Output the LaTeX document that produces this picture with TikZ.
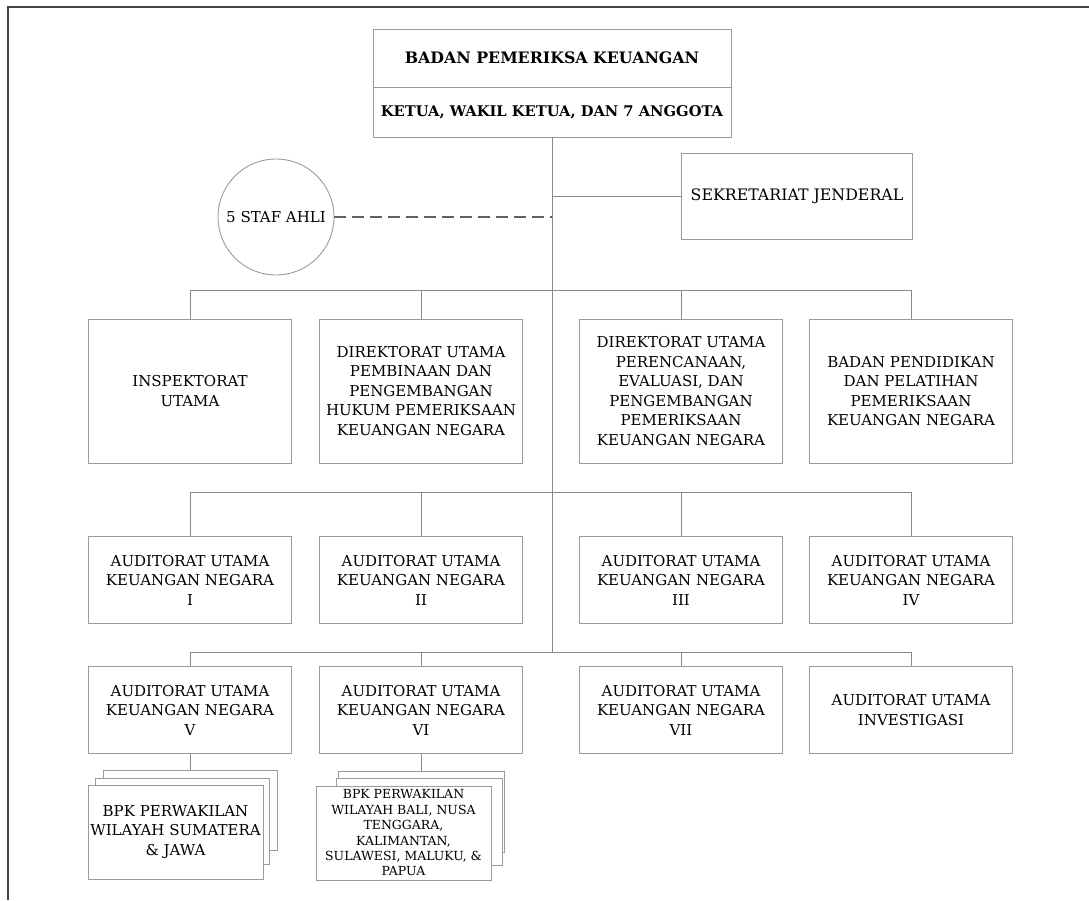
\documentclass[tikz,border=0pt]{standalone}
\usepackage{fontspec}
\setmainfont{DejaVu Serif}
\usepackage{tikz}
\usetikzlibrary{positioning}
\definecolor{boxline}{HTML}{9A9A9A}
\definecolor{linkline}{HTML}{8A8A8A}
\definecolor{frameline}{HTML}{444444}
\tikzset{x=1pt, y=-1pt,
  every node/.style={align=center, inner sep=0pt, font=\fontsize{15}{19.5}\selectfont},
  unit/.style={draw=boxline, line width=0.9pt, fill=white, minimum width=203pt},
  tall/.style={unit, minimum height=144pt},
  short/.style={unit, minimum height=87pt},
  head/.style={unit, minimum width=358pt, font=\bfseries\fontsize{15}{18}\selectfont},
  branch/.style={unit, minimum width=175pt, minimum height=94pt},
  link/.style={draw=linkline, line width=0.9pt},
  advisor/.style={draw=frameline!85, line width=2pt, dash pattern=on 12pt off 6pt},
  frame/.style={draw=frameline, line width=1.5pt},}

\begin{document}
\begin{tikzpicture}
    \useasboundingbox (0,0) rectangle (1089,900);
    \draw[frame] (8,900) -- (8,7) -- (1089,7);

    \node[head, minimum height=58pt, font=\bfseries\fontsize{15.8}{18}\selectfont] at (552,58) (bpk) {BADAN PEMERIKSA KEUANGAN};
    \node[head, minimum height=50pt, font=\bfseries\fontsize{14.7}{18}\selectfont] at (552,112) (pimpinan) {KETUA, WAKIL KETUA, DAN 7 ANGGOTA};
    \node[unit, minimum width=231pt, minimum height=86pt, font=\fontsize{15.8}{19.5}\selectfont] at (797,196) (sekjen) {SEKRETARIAT JENDERAL};
    \node[circle, draw=boxline, line width=0.9pt, minimum size=116pt] at (276,217) (staf) {5 STAF AHLI};

    \coordinate (j1) at (552,290);
    \coordinate (j2) at (552,492);
    \coordinate (j3) at (552,652);

    \node[tall] at (190,391) (insp) {INSPEKTORAT\\UTAMA};
    \node[tall] at (421,391) (hukum) {DIREKTORAT UTAMA\\PEMBINAAN DAN\\PENGEMBANGAN\\HUKUM PEMERIKSAAN\\KEUANGAN NEGARA};
    \node[tall] at (681,391) (renev) {DIREKTORAT UTAMA\\PERENCANAAN,\\EVALUASI, DAN\\PENGEMBANGAN\\PEMERIKSAAN\\KEUANGAN NEGARA};
    \node[tall] at (911,391) (diklat) {BADAN PENDIDIKAN\\DAN PELATIHAN\\PEMERIKSAAN\\KEUANGAN NEGARA};

    \node[short] at (190,580) (au1) {AUDITORAT UTAMA\\KEUANGAN NEGARA\\I};
    \node[short] at (421,580) (au2) {AUDITORAT UTAMA\\KEUANGAN NEGARA\\II};
    \node[short] at (681,580) (au3) {AUDITORAT UTAMA\\KEUANGAN NEGARA\\III};
    \node[short] at (911,580) (au4) {AUDITORAT UTAMA\\KEUANGAN NEGARA\\IV};

    \node[short] at (190,710) (au5) {AUDITORAT UTAMA\\KEUANGAN NEGARA\\V};
    \node[short] at (421,710) (au6) {AUDITORAT UTAMA\\KEUANGAN NEGARA\\VI};
    \node[short] at (681,710) (au7) {AUDITORAT UTAMA\\KEUANGAN NEGARA\\VII};
    \node[short] at (911,710) (auinv) {AUDITORAT UTAMA\\INVESTIGASI};

    \node[unit, minimum width=174pt, minimum height=80pt] at (190,810) (perw1c) {};
    \node[unit, minimum width=174pt, minimum height=86pt] at (182,821) (perw1b) {};
    \node[branch] at (175.5,832) (perw1) {BPK PERWAKILAN\\WILAYAH SUMATERA\\\& JAWA};
    \node[unit, minimum width=166pt, minimum height=81pt] at (421,811.5) (perw2c) {};
    \node[unit, minimum width=166pt, minimum height=87pt] at (419,821.5) (perw2b) {};
    \node[branch, font=\fontsize{12.5}{15.4}\selectfont] at (403.5,833) (perw2) {BPK PERWAKILAN\\WILAYAH BALI, NUSA\\TENGGARA,\\KALIMANTAN,\\SULAWESI, MALUKU, \&\\PAPUA};

    \draw[link] (pimpinan.south) -- (j3);
    \foreach \n in {insp, hukum, renev, diklat} \draw[link] (\n.north) |- (j1);
    \foreach \n in {au1, au2, au3, au4} \draw[link] (\n.north) |- (j2);
    \foreach \n in {au5, au6, au7, auinv} \draw[link] (\n.north) |- (j3);
    \draw[link] (sekjen.west) -- (sekjen.west -| j1);
    \draw[advisor] (staf.east) -- (staf.east -| j1);
    \draw[link] (au5.south) -- (perw1c.north);
    \draw[link] (au6.south) -- (perw2c.north);
\end{tikzpicture}
\end{document}
